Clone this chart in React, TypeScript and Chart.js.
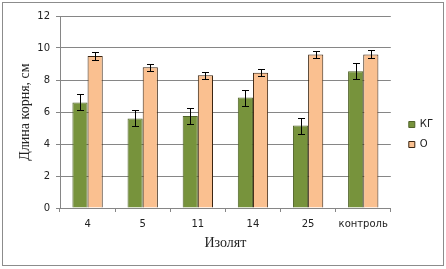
import React, { useEffect, useRef } from "react";
import { Chart, registerables } from "chart.js";

Chart.register(...registerables);

const categories = ["4", "5", "11", "14", "25", "контроль"];
const seriesNames = ["КГ", "О"];
const kgValues = [6.6, 5.6, 5.75, 6.9, 5.15, 8.55];
const kgErrors = [0.5, 0.5, 0.5, 0.5, 0.5, 0.5];
const oValues = [9.5, 8.8, 8.3, 8.45, 9.6, 9.6];
const oErrors = [0.24, 0.23, 0.23, 0.23, 0.24, 0.25];
const yTitle = "Длина корня, см";
const xTitle = "Изолят";

const errorBarPlugin = {
  id: "errorBars",
  afterDatasetsDraw(chart: any) {
    const ctx = chart.ctx;
    const yScale = chart.scales.y;
    ctx.save();
    ctx.strokeStyle = "#000000";
    ctx.lineWidth = 1;
    chart.data.datasets.forEach((ds: any, i: number) => {
      const meta = chart.getDatasetMeta(i);
      const errs: number[] = ds.errors || [];
      meta.data.forEach((bar: any, j: number) => {
        const v = ds.data[j];
        const e = errs[j] || 0;
        const x = Math.round(bar.x) + 0.5;
        const yHi = Math.round(yScale.getPixelForValue(v + e)) + 0.5;
        const yLo = Math.round(yScale.getPixelForValue(v - e)) + 0.5;
        ctx.beginPath();
        ctx.moveTo(x, yHi);
        ctx.lineTo(x, yLo);
        ctx.moveTo(x - 3.5, yHi);
        ctx.lineTo(x + 3.5, yHi);
        ctx.moveTo(x - 3.5, yLo);
        ctx.lineTo(x + 3.5, yLo);
        ctx.stroke();
      });
    });
    ctx.restore();
  },
};

const framePlugin = {
  id: "frame",
  beforeDraw(chart: any) {
    const ctx = chart.ctx;
    ctx.save();
    ctx.fillStyle = "#ffffff";
    ctx.fillRect(0, 0, chart.width, chart.height);
    ctx.strokeStyle = "#8c8c8c";
    ctx.lineWidth = 1;
    ctx.strokeRect(2.5, 2.5, 441, 263);
    ctx.restore();
  },
};

export default function App() {
  const ref = useRef<HTMLCanvasElement | null>(null);

  useEffect(() => {
    document.body.style.margin = "0";
    if (!ref.current) return;
    const tickFont = { family: "'DejaVu Sans', sans-serif", size: 10 };
    const titleFont = { family: "'Liberation Serif', serif", size: 14, style: "normal" as const };
    const chart = new Chart(ref.current, {
      type: "bar",
      data: {
        labels: categories,
        datasets: [
          {
            label: seriesNames[0],
            data: kgValues,
            errors: kgErrors,
            backgroundColor: "#77933C",
            borderColor: "#4F6228",
            borderWidth: 1,
          } as any,
          {
            label: seriesNames[1],
            data: oValues,
            errors: oErrors,
            backgroundColor: "#FAC090",
            borderColor: "#3a2410",
            borderWidth: 1,
          } as any,
        ],
      },
      options: {
        animation: false,
        responsive: false,
        maintainAspectRatio: false,
        layout: { padding: { left: 0, top: 16, right: 3, bottom: 16 } },
        datasets: {
          bar: { categoryPercentage: 0.55, barPercentage: 1 },
        },
        plugins: {
          tooltip: { enabled: false },
          legend: {
            position: "right",
            labels: {
              boxWidth: 6,
              boxHeight: 6,
              padding: 10,
              color: "#222222",
              font: tickFont,
            },
          },
        },
        scales: {
          x: {
            grid: {
              display: true,
              offset: true,
              drawOnChartArea: false,
              drawTicks: true,
              tickLength: 4,
              color: "#868686",
            },
            border: { display: true, color: "#868686" },
            ticks: { color: "#222222", font: tickFont, padding: 6, maxRotation: 0 },
            title: {
              display: true,
              text: xTitle,
              color: "#222222",
              font: titleFont,
              padding: { top: 0, bottom: 1 },
            },
            afterFit: (s: any) => {
              s.height = 45;
            },
          },
          y: {
            min: 0,
            max: 12,
            ticks: { stepSize: 2, color: "#222222", font: tickFont, padding: 6 },
            grid: { color: "#868686", tickLength: 4, drawTicks: true },
            border: { display: true, color: "#868686" },
            title: {
              display: true,
              text: yTitle,
              color: "#222222",
              font: titleFont,
              padding: { top: 17, bottom: 0 },
            },
            afterFit: (s: any) => {
              s.width = 60;
            },
          },
          yR: {
            type: "linear",
            position: "right",
            display: true,
            grid: { display: false },
            border: { display: false },
            ticks: { display: false },
            afterFit: (s: any) => {
              s.width = 8;
            },
          },
        },
      } as any,
      plugins: [framePlugin, errorBarPlugin],
    });
    return () => chart.destroy();
  }, []);

  return (
    <div style={{ width: 446, height: 269 }}>
      <canvas ref={ref} width={446} height={269} style={{ display: "block" }} />
    </div>
  );
}
